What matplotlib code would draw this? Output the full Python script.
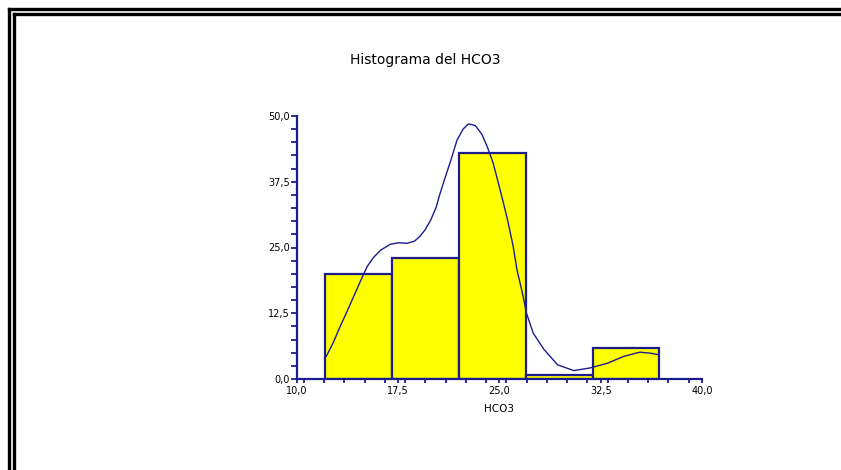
import matplotlib.pyplot as plt
from matplotlib.lines import Line2D
from matplotlib.ticker import MultipleLocator

# histogram bins (HCO3) and heights
bin_edges = [12.1, 17.05, 22.0, 26.95, 31.9, 36.85]
bin_heights = [20.0, 23.0, 43.0, 0.8, 5.8]

# density curve drawn over the bars
curve_x = [12.17, 12.7, 13.2, 13.7, 14.2, 14.7, 15.2, 15.7, 16.2, 16.9, 17.5,
           18.15, 18.7, 19.1, 19.5, 19.9, 20.3, 20.6, 21.0, 21.4, 21.85, 22.3,
           22.7, 23.2, 23.7, 24.1, 24.5, 24.8, 25.2, 25.6, 26.0, 26.3, 26.7,
           27.0, 27.5, 28.3, 29.3, 30.5, 31.7, 33.0, 34.2, 35.4, 36.2, 36.8]
curve_y = [4.3, 7.0, 10.0, 12.8, 15.7, 18.6, 21.4, 23.2, 24.5, 25.6, 25.9,
           25.8, 26.2, 27.1, 28.4, 30.2, 32.6, 35.3, 38.5, 41.6, 45.4, 47.5,
           48.5, 48.2, 46.5, 44.1, 41.3, 38.4, 34.4, 30.2, 25.4, 20.7, 16.3,
           12.5, 8.7, 5.6, 2.7, 1.6, 2.1, 3.0, 4.3, 5.1, 4.9, 4.6]

x_ticks = [10.0, 17.5, 25.0, 32.5, 40.0]
x_labels = ["10,0", "17,5", "25,0", "32,5", "40,0"]
y_ticks = [0.0, 12.5, 25.0, 37.5, 50.0]
y_labels = ["0,0", "12,5", "25,0", "37,5", "50,0"]

NAVY = "#1c1c8c"

fig = plt.figure(figsize=(8.41, 4.70), dpi=100)
ax = fig.add_axes([297 / 841, 91 / 470, 405 / 841, 263 / 470])

widths = [b - a for a, b in zip(bin_edges[:-1], bin_edges[1:])]
ax.bar(bin_edges[:-1], bin_heights, width=widths, align="edge",
       color="#ffff00", edgecolor=NAVY, linewidth=1.6, zorder=2)
ax.plot(curve_x, curve_y, color=NAVY, linewidth=1.0, zorder=3)

ax.set_xlim(10, 40)
ax.set_ylim(0, 50)
for side in ("top", "right"):
    ax.spines[side].set_visible(False)
for side in ("left", "bottom"):
    ax.spines[side].set_color(NAVY)
    ax.spines[side].set_linewidth(1.6)

ax.set_xticks(x_ticks)
ax.set_xticklabels(x_labels)
ax.set_yticks(y_ticks)
ax.set_yticklabels(y_labels)
ax.xaxis.set_minor_locator(MultipleLocator(1.5))
ax.yaxis.set_minor_locator(MultipleLocator(2.5))
ax.tick_params(which="both", color=NAVY, width=1.3, direction="out",
               labelsize=7, pad=2)
ax.tick_params(axis="y", which="both", length=4, pad=1)
ax.tick_params(axis="x", which="both", length=3)

ax.set_xlabel("HCO3", fontsize=7.5, labelpad=6)
fig.text(425 / 841, 1 - 60 / 470, "Histograma del HCO3", ha="center",
         va="center", fontsize=10)

# double frame along top and left edges
for off, w in ((9, 2.4), (14, 2.4)):
    fig.add_artist(Line2D([off / 841, 1], [1 - off / 470, 1 - off / 470],
                          transform=fig.transFigure, color="black", linewidth=w))
    fig.add_artist(Line2D([off / 841, off / 841], [0, 1 - off / 470],
                          transform=fig.transFigure, color="black", linewidth=w))

fig.savefig("out.png", dpi=100)
